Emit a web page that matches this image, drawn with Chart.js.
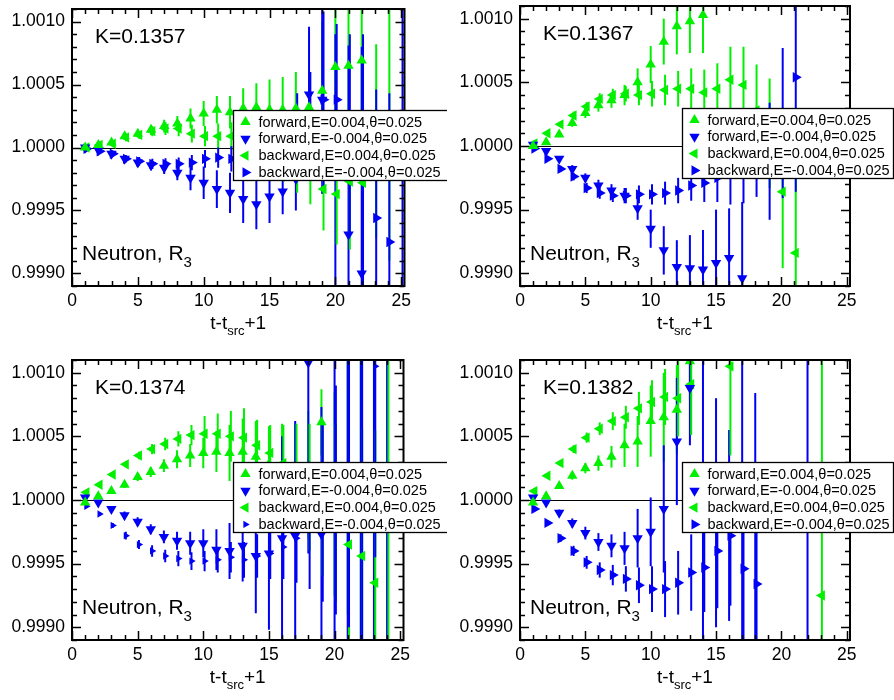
<!DOCTYPE html>
<html>
<head>
<meta charset="utf-8">
<script src="https://cdn.jsdelivr.net/npm/chart.js@4.4.1/dist/chart.umd.min.js"></script>
<style>
  html, body { margin: 0; padding: 0; background: #fff; }
  #wrap { position: relative; width: 894px; height: 700px; background: #fff; }
  canvas { position: absolute; }
</style>
</head>
<body>
<div id="wrap">
  <canvas id="p1" width="447" height="350" style="left:0;top:0"></canvas>
  <canvas id="p2" width="447" height="350" style="left:447px;top:0"></canvas>
  <canvas id="p3" width="447" height="350" style="left:0;top:350px"></canvas>
  <canvas id="p4" width="447" height="350" style="left:447px;top:350px"></canvas>
</div>
<script>
// ---- time slices and axis ticks ----
const T = [1,2,3,4,5,6,7,8,9,10,11,12,13,14,15,16,17,18,19,20,21,22,23,24,25];
const X_TICKS = [0, 5, 10, 15, 20, 25];
const Y_TICKS = [0.9990, 0.9995, 1.0000, 1.0005, 1.0010];
const X_MIN = 0, X_MAX = 25.25, Y_MIN = 0.9989, Y_MAX = 1.0011;
const X_MINOR_STEP = 1, Y_MINOR_STEP = 0.0001;
const BACKWARD_SHIFT = 0.1;

const SERIES_LABELS = [
  'forward,E=0.004,\u03b8=0.025',
  'forward,E=-0.004,\u03b8=0.025',
  'backward,E=0.004,\u03b8=0.025',
  'backward,E=-0.004,\u03b8=0.025'
];

// ---- K=0.1357 ----
const k1357_fwdPlus = [1.00000,1.00002,1.00004,1.00009,1.00011,1.00014,1.00017,1.00019,1.00023,1.00027,1.00030,1.00028,1.00031,1.00032,1.00030,1.00030,1.00031,1.00032,1.00045,1.00064,1.00065,1.00069,null,null,null];
const k1357_fwdPlusErr = [0.00001,0.000015,0.00002,0.00003,0.00003,0.00004,0.00005,0.00006,0.00008,0.00010,0.00011,0.00013,0.00016,0.00019,0.00024,0.00026,0.00029,0.00025,0.00055,0.00060,0.00070,0.00090,null,null,null];
const k1357_fwdMinus = [1.00000,0.99998,0.99995,0.99991,0.99988,0.99986,0.99984,0.99980,0.99976,0.99972,0.99967,0.99964,0.99959,0.99955,0.99961,0.99965,0.99975,1.00042,1.00038,0.99990,0.99931,0.99900,null,null,null];
const k1357_fwdMinusErr = [0.00001,0.000015,0.00002,0.00003,0.000035,0.00004,0.00005,0.00006,0.00010,0.00013,0.00015,0.00016,0.00019,0.00020,0.00021,0.00018,0.00025,0.00054,0.00075,0.00100,0.00150,0.00180,null,null,null];
const k1357_bwdPlus = [1.00000,1.00002,1.00003,1.00008,1.00010,1.00013,1.00015,1.00015,1.00011,1.00009,1.00009,1.00009,1.00006,1.00003,1.00000,0.99995,0.99990,0.99985,0.99967,0.99963,0.99973,0.99972,1.00005,1.00010,null];
const k1357_bwdPlusErr = [0.00001,0.000015,0.00002,0.00003,0.00003,0.00004,0.00005,0.00006,0.00007,0.00008,0.00010,0.00011,0.00014,0.00016,0.00019,0.00022,0.00026,0.00030,0.00033,0.00040,0.00054,0.00063,0.00077,0.00100,null];
const k1357_bwdMinus = [0.99999,0.99997,0.99995,0.99991,0.99989,0.99987,0.99987,0.99987,0.99988,0.99991,0.99992,0.99991,0.99990,0.99995,1.00000,1.00005,1.00015,1.00025,1.00038,1.00038,1.00010,0.99990,0.99944,0.99925,0.99850];
const k1357_bwdMinusErr = [0.00001,0.000015,0.00002,0.00003,0.000035,0.00004,0.000045,0.00005,0.00006,0.00007,0.00008,0.00010,0.00012,0.00015,0.00018,0.00022,0.00028,0.00035,0.00070,0.00060,0.00080,0.00100,0.00102,0.00118,0.00300];

// ---- K=0.1367 ----
const k1367_fwdPlus = [1.00000,1.00003,1.00009,1.00018,1.00026,1.00032,1.00036,1.00040,1.00050,1.00064,1.00082,1.00094,1.00098,1.00103,null,null,null,null,null,null,null,null,null,null,null];
const k1367_fwdPlusErr = [0.00001,0.000015,0.00002,0.00003,0.00004,0.00005,0.00006,0.00008,0.00011,0.000145,0.00018,0.00022,0.00025,0.00030,null,null,null,null,null,null,null,null,null,null,null];
const k1367_fwdMinus = [1.00001,0.99996,0.99990,0.99982,0.99975,0.99969,0.99965,0.99961,0.99951,0.99935,0.99918,0.99905,0.99904,0.99903,0.99908,0.99912,0.99896,null,null,null,null,null,null,null,null];
const k1367_fwdMinusErr = [0.00001,0.000015,0.00002,0.00003,0.000035,0.000045,0.00005,0.00006,0.00009,0.00015,0.00019,0.00021,0.00026,0.00031,0.00042,0.00039,0.00060,null,null,null,null,null,null,null,null];
const k1367_bwdPlus = [1.00002,1.00010,1.00017,1.00024,1.00031,1.00037,1.00040,1.00041,1.00040,1.00041,1.00044,1.00045,1.00045,1.00042,1.00045,1.00052,1.00048,1.00028,1.00010,0.99964,0.99916,null,null,null,null];
const k1367_bwdPlusErr = [0.00001,0.000015,0.00002,0.00003,0.000035,0.000045,0.00005,0.00006,0.00008,0.00010,0.00012,0.00014,0.00016,0.00018,0.00020,0.00026,0.00030,0.00036,0.00043,0.00060,0.00100,null,null,null,null];
const k1367_bwdMinus = [0.99998,0.99990,0.99982,0.99976,0.99967,0.99963,0.99961,0.99961,0.99962,0.99962,0.99963,0.99965,0.99969,0.99971,0.99975,0.99978,0.99985,0.99995,0.99988,1.00018,1.00054,null,null,null,null];
const k1367_bwdMinusErr = [0.00001,0.000015,0.000025,0.00003,0.00004,0.000045,0.00005,0.00006,0.00007,0.00008,0.00009,0.00010,0.00012,0.00015,0.00019,0.00024,0.00030,0.00035,0.00046,0.00059,0.00090,null,null,null,null];

// ---- K=0.1374 ----
const k1374_fwdPlus = [0.99998,1.00003,1.00007,1.00012,1.00018,1.00022,1.00027,1.00032,1.00035,1.00037,1.00038,1.00037,1.00038,1.00034,1.00028,1.00020,1.00015,1.00020,1.00061,1.00005,1.00010,1.00000,0.99990,null,null];
const k1374_fwdPlusErr = [0.00001,0.000015,0.00002,0.000025,0.00003,0.00004,0.00005,0.00007,0.00009,0.00012,0.00016,0.00022,0.00026,0.00028,0.00030,0.00040,0.00045,0.00050,0.00026,0.00080,0.00100,0.00120,0.00140,null,null];
const k1374_fwdMinus = [1.00002,0.99998,0.99993,0.99988,0.99983,0.99977,0.99971,0.99968,0.99966,0.99966,0.99961,0.99960,0.99964,0.99956,0.99958,0.99970,0.99972,1.00108,0.99973,1.00000,1.00000,1.00000,1.00000,1.00000,null];
const k1374_fwdMinusErr = [0.00001,0.000015,0.00002,0.00003,0.000035,0.00004,0.00005,0.00007,0.00009,0.00011,0.00016,0.00022,0.00028,0.00045,0.00060,0.00080,0.00090,0.00150,0.00100,0.00150,0.00150,0.00150,0.00150,0.00150,null];
const k1374_bwdPlus = [1.00006,1.00012,1.00020,1.00028,1.00035,1.00040,1.00044,1.00048,1.00051,1.00052,1.00052,1.00050,1.00049,1.00043,1.00037,1.00029,1.00020,1.00010,1.00000,0.99990,0.99965,0.99956,0.99935,1.00000,null];
const k1374_bwdPlusErr = [0.00001,0.000015,0.00002,0.000025,0.00003,0.00004,0.00005,0.00006,0.00008,0.00014,0.00016,0.00020,0.00023,0.00020,0.00022,0.00030,0.00040,0.00050,0.00060,0.00070,0.00080,0.00100,0.00120,0.00150,null];
const k1374_bwdMinus = [0.99995,0.99989,0.99980,0.99972,0.99965,0.99960,0.99956,0.99954,0.99952,0.99952,0.99953,0.99955,0.99953,0.99956,0.99958,0.99963,0.99970,0.99980,0.99990,1.00000,1.00010,1.00020,1.00105,null,null];
const k1374_bwdMinusErr = [0.00001,0.000015,0.00002,0.00003,0.000035,0.000045,0.00005,0.00006,0.00007,0.00008,0.00010,0.00012,0.00014,0.00017,0.00020,0.00025,0.00035,0.00050,0.00070,0.00090,0.00110,0.00130,0.00150,null,null];

// ---- K=0.1382 ----
const k1382_fwdPlus = [0.99998,1.00003,1.00011,1.00019,1.00025,1.00029,1.00034,1.00043,1.00046,1.00062,1.00065,1.00071,1.00109,null,null,null,null,null,null,null,null,null,null,null,null];
const k1382_fwdPlusErr = [0.00001,0.000015,0.00002,0.00003,0.00004,0.00006,0.000085,0.00017,0.00020,0.00028,0.00035,0.00035,0.00030,null,null,null,null,null,null,null,null,null,null,null,null];
const k1382_fwdMinus = [1.00002,0.99998,0.99990,0.99982,0.99974,0.99967,0.99964,0.99962,0.99970,0.99975,0.99993,1.00046,1.00088,1.00000,0.99990,0.99980,1.00000,0.99980,null,null,null,1.00000,null,null,null];
const k1382_fwdMinusErr = [0.00001,0.000015,0.000025,0.000035,0.00005,0.00007,0.00009,0.00013,0.00023,0.00027,0.00050,0.00050,0.00045,0.00120,0.00090,0.00075,0.00140,0.00104,null,null,null,0.00200,null,null,null];
const k1382_bwdPlus = [1.00007,1.00019,1.00029,1.00040,1.00049,1.00056,1.00062,1.00065,1.00072,1.00077,1.00081,1.00080,1.00091,null,null,1.00105,null,null,null,null,null,null,0.99925,null,null];
const k1382_bwdPlusErr = [0.00001,0.000015,0.00002,0.00003,0.00004,0.00005,0.00007,0.00009,0.00013,0.00017,0.00022,0.00030,0.00040,null,null,0.00070,null,null,null,null,null,null,0.00200,null,null];
const k1382_bwdMinus = [0.99993,0.99982,0.99970,0.99960,0.99951,0.99945,0.99941,0.99938,0.99933,0.99930,0.99930,0.99935,0.99943,0.99947,0.99960,0.99972,0.99946,0.99934,null,null,null,null,null,null,null];
const k1382_bwdMinusErr = [0.00001,0.00002,0.00003,0.00004,0.00005,0.00006,0.00008,0.00010,0.00014,0.00018,0.00022,0.00025,0.00030,0.00035,0.00045,0.00055,0.00070,0.00090,null,null,null,null,null,null,null];

// ---- appearance ----
const GREEN = 'rgb(0,240,0)';
const BLUE = 'rgb(0,0,245)';
const FONT = '"Liberation Sans", Arial, Helvetica, sans-serif';
const SERIES_STYLE = [
  { color: GREEN, rotation: 0,   shift: 0 },
  { color: BLUE,  rotation: 180, shift: 0 },
  { color: GREEN, rotation: 270, shift: BACKWARD_SHIFT },
  { color: BLUE,  rotation: 90,  shift: BACKWARD_SHIFT }
];
const MARKER_RADIUS = 6;

const PANELS = [
  { id: 'p1', kappa: 'K=0.1357',
    values: [k1357_fwdPlus, k1357_fwdMinus, k1357_bwdPlus, k1357_bwdMinus],
    errors: [k1357_fwdPlusErr, k1357_fwdMinusErr, k1357_bwdPlusErr, k1357_bwdMinusErr],
    markerScale: [1, 1, 1, 1],
    area: { left: 72, top: 9, right: 404.5, bottom: 286 },
    legend: { dx: 161, w: 215 } },
  { id: 'p2', kappa: 'K=0.1367',
    values: [k1367_fwdPlus, k1367_fwdMinus, k1367_bwdPlus, k1367_bwdMinus],
    errors: [k1367_fwdPlusErr, k1367_fwdMinusErr, k1367_bwdPlusErr, k1367_bwdMinusErr],
    markerScale: [1, 1, 1, 1],
    area: { left: 73, top: 6, right: 403, bottom: 286 },
    legend: { dx: 162, w: 211 } },
  { id: 'p3', kappa: 'K=0.1374',
    values: [k1374_fwdPlus, k1374_fwdMinus, k1374_bwdPlus, k1374_bwdMinus],
    errors: [k1374_fwdPlusErr, k1374_fwdMinusErr, k1374_bwdPlusErr, k1374_bwdMinusErr],
    markerScale: [1, 1, 1, 0.7],
    area: { left: 72, top: 10, right: 403.5, bottom: 290 },
    legend: { dx: 161, w: 215 } },
  { id: 'p4', kappa: 'K=0.1382',
    values: [k1382_fwdPlus, k1382_fwdMinus, k1382_bwdPlus, k1382_bwdMinus],
    errors: [k1382_fwdPlusErr, k1382_fwdMinusErr, k1382_bwdPlusErr, k1382_bwdMinusErr],
    markerScale: [1, 1, 1, 1],
    area: { left: 73, top: 10, right: 403, bottom: 290 },
    legend: { dx: 162, w: 211 } }
];

// filled triangle marker, pointing along the given rotation (0 = up)
function drawTriangle(ctx, x, y, r, rotationDeg) {
  let rad = rotationDeg * Math.PI / 180;
  ctx.beginPath();
  for (let k = 0; k < 3; k++) {
    const px = x + Math.sin(rad) * r, py = y - Math.cos(rad) * r;
    if (k === 0) ctx.moveTo(px, py); else ctx.lineTo(px, py);
    rad += 2 * Math.PI / 3;
  }
  ctx.closePath();
  ctx.fill();
}

// text with a lowered, smaller part: parts = [[text, isSub], ...]
function drawSubText(ctx, parts, x, y, size, subSize, subDrop) {
  let cx = x;
  for (const [txt, sub] of parts) {
    ctx.font = (sub ? subSize : size) + 'px ' + FONT;
    ctx.fillText(txt, cx, y + (sub ? subDrop : 0));
    cx += ctx.measureText(txt).width;
  }
  return cx - x;
}
function measureSubText(ctx, parts, size, subSize) {
  let w = 0;
  for (const [txt, sub] of parts) {
    ctx.font = (sub ? subSize : size) + 'px ' + FONT;
    w += ctx.measureText(txt).width;
  }
  return w;
}

const panelDecor = {
  id: 'panelDecor',
  beforeDatasetsDraw(chart) {
    const { ctx, chartArea: a, scales: { x, y } } = chart;
    ctx.save();
    ctx.beginPath();
    ctx.rect(a.left, a.top, a.right - a.left, a.bottom - a.top);
    ctx.clip();
    // reference line at ratio 1
    const y1 = Math.round(y.getPixelForValue(1)) + 0.5;
    ctx.strokeStyle = '#000';
    ctx.lineWidth = 1;
    ctx.beginPath(); ctx.moveTo(a.left, y1); ctx.lineTo(a.right, y1); ctx.stroke();
    // error bars
    ctx.lineWidth = 2;
    chart.data.datasets.forEach(ds => {
      ctx.strokeStyle = ds.borderColor;
      ds.data.forEach(p => {
        if (p.err == null) return;
        const px = x.getPixelForValue(p.x);
        ctx.beginPath();
        ctx.moveTo(px, y.getPixelForValue(p.y - p.err));
        ctx.lineTo(px, y.getPixelForValue(p.y + p.err));
        ctx.stroke();
      });
    });
    ctx.restore();
  },
  afterDatasetsDraw(chart, args, opts) {
    const { ctx, chartArea: a, scales: { x, y } } = chart;
    ctx.save();
    ctx.strokeStyle = '#000';
    // minor and major ticks on all four sides
    ctx.lineWidth = 1.5;
    ctx.beginPath();
    for (let v = X_MIN; v <= X_MAX + 1e-9; v += X_MINOR_STEP) {
      const px = Math.round(x.getPixelForValue(v)) + 0.5;
      const len = X_TICKS.includes(v) ? 9 : 5;
      ctx.moveTo(px, a.bottom); ctx.lineTo(px, a.bottom - len);
      ctx.moveTo(px, a.top); ctx.lineTo(px, a.top + len);
    }
    const nMinor = Math.round((Y_MAX - Y_MIN) / Y_MINOR_STEP);
    for (let k = 0; k <= nMinor; k++) {
      const v = Y_MIN + k * Y_MINOR_STEP;
      const major = Y_TICKS.some(t => Math.abs(t - v) < 1e-9);
      const py = Math.round(y.getPixelForValue(v)) + 0.5;
      const len = major ? 9 : 5;
      ctx.moveTo(a.left, py); ctx.lineTo(a.left + len, py);
      ctx.moveTo(a.right, py); ctx.lineTo(a.right - len, py);
    }
    ctx.stroke();
    // frame
    ctx.lineWidth = 2;
    ctx.strokeRect(a.left, a.top, a.right - a.left, a.bottom - a.top);

    // legend box
    const lg = opts.legend;
    const lx = Math.round(a.left + lg.dx) + 0.5;
    const ly = Math.round(y.getPixelForValue(1) - 38) + 0.5;
    const lh = 70;
    ctx.fillStyle = '#fff';
    ctx.fillRect(lx, ly, lg.w, lh);
    ctx.lineWidth = 1.3;
    ctx.strokeStyle = '#000';
    ctx.strokeRect(lx, ly, lg.w, lh);
    ctx.textBaseline = 'middle';
    ctx.font = '14.5px ' + FONT;
    chart.data.datasets.forEach((ds, i) => {
      const cy = ly + 11.5 + i * 16.8;
      ctx.fillStyle = ds.backgroundColor;
      drawTriangle(ctx, lx + 12, cy, ds.pointRadius, ds.pointRotation);
      ctx.fillStyle = '#000';
      ctx.fillText(ds.label, lx + 25, cy + 0.5);
    });

    // panel annotations
    ctx.textBaseline = 'alphabetic';
    ctx.fillStyle = '#000';
    ctx.font = '21px ' + FONT;
    ctx.fillText(opts.kappa, a.left + 23, a.top + 34);
    drawSubText(ctx, [['Neutron, R', false], ['3', true]], a.left + 10, a.bottom - 26, 21, 15, 7);

    // x-axis title
    const parts = [['t-t', false], ['src', true], ['+1', false]];
    const w = measureSubText(ctx, parts, 19, 13);
    drawSubText(ctx, parts, (a.left + a.right) / 2 - w / 2, a.bottom + 43, 19, 13, 6);
    ctx.restore();
  }
};

PANELS.forEach(panel => {
  const canvas = document.getElementById(panel.id);
  const W = canvas.width, H = canvas.height;
  const datasets = SERIES_STYLE.map((st, i) => {
    const vals = panel.values[i], errs = panel.errors[i];
    const pts = [];
    T.forEach((t, j) => {
      if (vals[j] == null) return;
      pts.push({ x: t + st.shift, y: vals[j], err: errs[j] });
    });
    return {
      label: SERIES_LABELS[i],
      data: pts,
      showLine: false,
      pointStyle: 'triangle',
      pointRotation: st.rotation,
      pointRadius: MARKER_RADIUS * panel.markerScale[i],
      pointBorderWidth: 0,
      borderWidth: 0,
      backgroundColor: st.color,
      borderColor: st.color,
      pointBackgroundColor: st.color,
      pointBorderColor: st.color
    };
  });

  new Chart(canvas, {
    type: 'scatter',
    data: { datasets },
    plugins: [panelDecor],
    options: {
      responsive: false,
      animation: false,
      devicePixelRatio: 1,
      events: [],
      layout: { padding: { left: 0, top: panel.area.top, right: W - panel.area.right, bottom: 0 } },
      plugins: {
        legend: { display: false },
        tooltip: { enabled: false },
        panelDecor: { kappa: panel.kappa, legend: panel.legend }
      },
      scales: {
        x: {
          type: 'linear', min: X_MIN, max: X_MAX,
          afterBuildTicks: s => { s.ticks = X_TICKS.map(v => ({ value: v })); },
          afterFit: s => {
            s.height = H - panel.area.bottom;
            s.paddingLeft = 0; s.paddingRight = 0; s.paddingTop = 0; s.paddingBottom = 0;
          },
          grid: { display: false, drawTicks: false },
          border: { display: false },
          ticks: { color: '#000', padding: 5, maxRotation: 0, autoSkip: false,
                   font: { family: FONT, size: 17.5 }, callback: v => String(v) }
        },
        y: {
          type: 'linear', min: Y_MIN, max: Y_MAX,
          afterBuildTicks: s => { s.ticks = Y_TICKS.map(v => ({ value: v })); },
          afterFit: s => {
            s.width = panel.area.left;
            s.paddingLeft = 0; s.paddingRight = 0; s.paddingTop = 0; s.paddingBottom = 0;
          },
          grid: { display: false, drawTicks: false },
          border: { display: false },
          ticks: { color: '#000', padding: 7, autoSkip: false,
                   font: { family: FONT, size: 17.5 }, callback: v => v.toFixed(4) }
        }
      }
    }
  });
});
</script>
</body>
</html>
